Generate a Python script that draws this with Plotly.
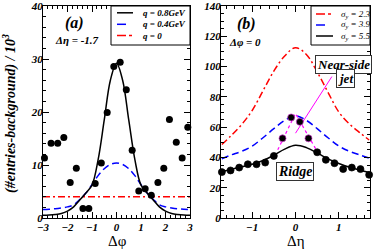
import plotly.graph_objects as go

# ---------------- Panel (a): vs delta-phi, delta-eta = -1.7 ----------------
dphi_pts = [-2.94, -2.67, -2.40, -2.15, -1.89, -1.64, -1.37, -1.13, -0.87, -0.62,
            -0.38, -0.11, 0.15, 0.40, 0.64, 0.91, 1.17, 1.42, 1.69, 1.93,
            2.16, 2.44, 2.68, 2.91]
counts_a = [11.3, 14.1, 14.1, 15.2, 6.7, 9.4, 1.8, 1.8, 6.5, 10.4,
            19.9, 28.6, 29.4, 24.2, 12.8, 5.1, 5.5, 4.3, 6.7, 9.4,
            18.6, 14.3, 11.3, 17.1]

curve_phi = [-3.0, -2.75, -2.5, -2.25, -2.0, -1.75, -1.5, -1.25, -1.0, -0.75, -0.5, -0.25, 0.0,
             0.25, 0.5, 0.75, 1.0, 1.25, 1.5, 1.75, 2.0, 2.25, 2.5, 2.75, 3.0]
q08 = [0.5, 0.55, 0.65, 0.85, 1.3, 2.1, 3.4, 4.7, 6.2, 11.0, 18.5, 26.0, 29.2,
       26.0, 18.5, 11.0, 6.2, 4.7, 3.4, 2.1, 1.3, 0.85, 0.65, 0.55, 0.5]
q04 = [1.6, 1.65, 1.75, 1.9, 2.1, 2.5, 3.5, 4.7, 6.3, 8.0, 9.3, 10.1, 10.4,
       10.1, 9.3, 8.0, 6.3, 4.7, 3.5, 2.5, 2.1, 1.9, 1.75, 1.65, 1.6]
q0_phi = [-3.0, 3.0]
q0 = [4.0, 4.0]

# ---------------- Panel (b): vs delta-eta, delta-phi = 0 ----------------
deta_pts = [-1.7, -1.5, -1.3, -1.1, -0.9, -0.7, -0.5, -0.3, -0.1, 0.1,
            0.3, 0.5, 0.7, 0.9, 1.1, 1.3, 1.5, 1.7]
counts_b = [30.3, 31.4, 33.3, 35.5, 35.5, 36.6, 41.0, 52.6, 66.4, 63.5,
            52.6, 43.4, 38.4, 36.2, 32.3, 33.3, 32.3, 28.5]

curve_eta = [-1.7, -1.5, -1.25, -1.0, -0.75, -0.5, -0.25, 0.0, 0.25, 0.5, 0.75, 1.0, 1.25, 1.5, 1.7]
sig23 = [48.5, 54.0, 61.5, 71.0, 84.0, 97.0, 107.0, 112.5, 108.0, 96.5, 83.0, 70.0, 62.0, 56.0, 51.5]
sig39 = [39.0, 41.5, 44.0, 47.5, 53.0, 59.0, 64.5, 67.5, 64.5, 59.0, 53.0, 47.5, 44.0, 41.5, 39.5]
sig55 = [30.5, 32.0, 33.8, 35.5, 38.0, 41.5, 45.5, 48.0, 46.5, 43.0, 39.0, 36.0, 33.5, 31.5, 30.0]

cone_eta = [-0.41, 0.0, 0.48]
cone_y = [45.0, 69.0, 45.0]
pointer_eta = [0.0, 0.84]
pointer_y = [56.0, 93.4]

SERIF = "Liberation Serif"
W, H = 375, 250

def px(X):
    return X / W

def py(Y):
    return 1 - Y / H

fig = go.Figure()

# panel a curves
fig.add_trace(go.Scatter(x=q0_phi, y=q0, mode="lines",
                         line=dict(color="red", width=1.5, dash="7px,3px,2px,3px"),
                         xaxis="x", yaxis="y", showlegend=False))
fig.add_trace(go.Scatter(x=curve_phi, y=q04, mode="lines", line_shape="spline",
                         line=dict(color="blue", width=1.5, dash="7px,4px"),
                         xaxis="x", yaxis="y", showlegend=False))
fig.add_trace(go.Scatter(x=curve_phi, y=q08, mode="lines", line_shape="spline",
                         line=dict(color="black", width=1.5),
                         xaxis="x", yaxis="y", showlegend=False))
fig.add_trace(go.Scatter(x=dphi_pts, y=counts_a, mode="markers",
                         marker=dict(color="black", size=7), cliponaxis=False,
                         xaxis="x", yaxis="y", showlegend=False))

# panel b curves
fig.add_trace(go.Scatter(x=curve_eta, y=sig23, mode="lines", line_shape="spline",
                         line=dict(color="red", width=1.5, dash="7px,3px,2px,3px"),
                         xaxis="x2", yaxis="y2", showlegend=False))
fig.add_trace(go.Scatter(x=curve_eta, y=sig39, mode="lines", line_shape="spline",
                         line=dict(color="blue", width=1.5, dash="7px,4px"),
                         xaxis="x2", yaxis="y2", showlegend=False))
fig.add_trace(go.Scatter(x=curve_eta, y=sig55, mode="lines", line_shape="spline",
                         line=dict(color="black", width=1.5),
                         xaxis="x2", yaxis="y2", showlegend=False))
fig.add_trace(go.Scatter(x=cone_eta, y=cone_y, mode="lines",
                         line=dict(color="magenta", width=1.2, dash="dot"),
                         xaxis="x2", yaxis="y2", showlegend=False))
fig.add_trace(go.Scatter(x=pointer_eta, y=pointer_y, mode="lines",
                         line=dict(color="magenta", width=1),
                         xaxis="x2", yaxis="y2", showlegend=False))
edge_cols = ["#cc33cc" if abs(e) < 0.35 else "black" for e in deta_pts]
fig.add_trace(go.Scatter(x=deta_pts, y=counts_b, mode="markers",
                         marker=dict(color="black", size=7, line=dict(color=edge_cols, width=0.7)),
                         cliponaxis=False, xaxis="x2", yaxis="y2", showlegend=False))

tickfont = dict(family=SERIF, size=11, color="black", weight="bold", style="italic")
common = dict(showline=True, linecolor="black", linewidth=1, mirror="allticks",
              ticks="inside", ticklen=6, tickwidth=1, tickcolor="black",
              showgrid=False, zeroline=False, tickfont=tickfont, automargin=False,
              ticklabeloverflow="allow")

Y_TOP, Y_BOT = 6, 218
fig.update_layout(
    width=W, height=H, margin=dict(l=0, r=0, t=0, b=0),
    plot_bgcolor="white", paper_bgcolor="white",
    xaxis=dict(domain=[px(43), px(190)], range=[-3, 3], dtick=1, anchor="y",
               ticklabelstandoff=-1,
               minor=dict(ticks="inside", ticklen=3, dtick=0.2, tickcolor="black", showgrid=False),
               **common),
    yaxis=dict(domain=[py(Y_BOT), py(Y_TOP)], range=[0, 40], dtick=10, anchor="x",
               ticklabelstandoff=-3,
               minor=dict(ticks="inside", ticklen=3, dtick=2, tickcolor="black", showgrid=False),
               **common),
    xaxis2=dict(domain=[px(221), px(370)], range=[-1.72, 1.72], dtick=1, anchor="y2",
                ticklabelstandoff=-1,
                minor=dict(ticks="inside", ticklen=3, dtick=0.2, tickcolor="black", showgrid=False),
                **common),
    yaxis2=dict(domain=[py(Y_BOT), py(Y_TOP)], range=[0, 140], dtick=20, anchor="x2",
                ticklabelstandoff=-3,
                minor=dict(ticks="inside", ticklen=3, dtick=5, tickcolor="black", showgrid=False),
                **common),
)

annotations = []
def ann(text, X, Y, size=11, bold=True, italic=True, angle=0, xanchor="center", **kw):
    annotations.append(dict(text=text, x=px(X), y=py(Y), xref="paper", yref="paper",
                            showarrow=False, textangle=angle, xanchor=xanchor, yanchor="middle",
                            font=dict(family=SERIF, size=size, color="black",
                                      weight="bold" if bold else "normal",
                                      style="italic" if italic else "normal"), **kw))

ann("(#entries-background) / 10<sup>3</sup>", 10, 114, size=14, angle=-90)
ann("Δφ", 117, 241, size=15, bold=False, italic=False)
ann("Δη", 296, 241, size=15, bold=False, italic=False)
ann("(a)", 74, 23, size=16)
ann("Δη = -1.7", 77, 40, size=11)
ann("(b)", 246, 24, size=16)
ann("Δφ = 0", 245, 42, size=11)

# boxed labels in panel (b)
for txt, X, Y, sz in [("Near-side", 343, 64.5, 13), ("jet", 345, 78, 13), ("Ridge", 295, 171.5, 14)]:
    ann(txt, X, Y, size=sz, bordercolor="#333333", borderwidth=1, borderpad=1, bgcolor="white")

# legends (drawn as boxed keys)
shapes = []
shapes.append(dict(type="rect", xref="paper", yref="paper", x0=px(111), x1=px(190), y0=py(45), y1=py(Y_TOP),
                   line=dict(color="black", width=1), fillcolor="white", layer="above"))
shapes.append(dict(type="rect", xref="paper", yref="paper", x0=px(311), x1=px(370), y0=py(45), y1=py(Y_TOP),
                   line=dict(color="black", width=1), fillcolor="white", layer="above"))

leg_a = [("q = 0.8GeV", "black", "solid", 12.8), ("q = 0.4GeV", "blue", "dash", 24.3), ("q = 0", "red", "dashdot", 35.5)]
for txt, col, dsh, Y in leg_a:
    shapes.append(dict(type="line", xref="paper", yref="paper", x0=px(117), x1=px(133), y0=py(Y), y1=py(Y),
                       line=dict(color=col, width=1.5, dash=dsh), layer="above"))
    ann(txt, 141, Y, size=9, xanchor="left")

leg_b = [("σ<sub>y</sub> = 2.3", "red", "dashdot", 14), ("σ<sub>y</sub> = 3.9", "blue", "dash", 25),
         ("σ<sub>y</sub> = 5.5", "black", "solid", 36)]
for txt, col, dsh, Y in leg_b:
    shapes.append(dict(type="line", xref="paper", yref="paper", x0=px(316), x1=px(333), y0=py(Y), y1=py(Y),
                       line=dict(color=col, width=1.5, dash=dsh), layer="above"))
    ann(txt, 339, Y, size=9, bold=False, xanchor="left")

fig.update_layout(annotations=annotations, shapes=shapes)
fig.write_html("out.html", config={"displayModeBar": False},
               post_script="document.body.style.margin='0';")
